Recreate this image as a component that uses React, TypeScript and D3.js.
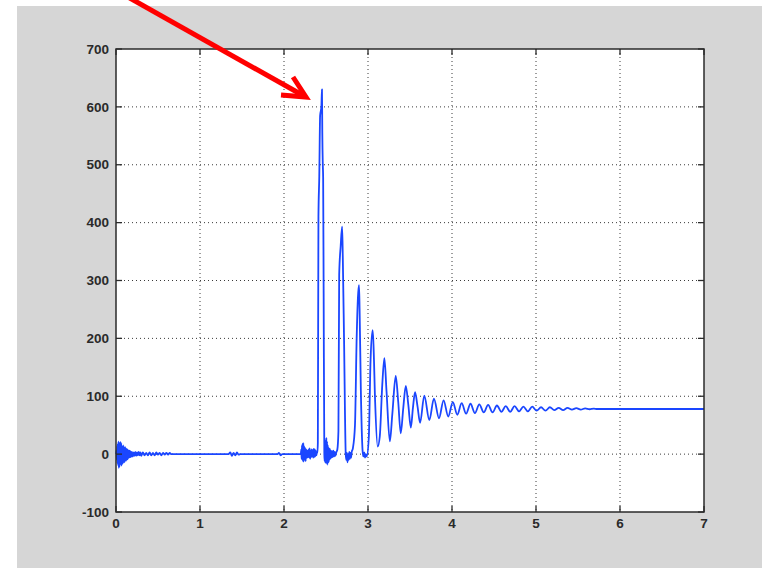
import React from "react";
import * as d3 from "d3";

// ---- tick labels ----
const xTicks = [0, 1, 2, 3, 4, 5, 6, 7];
const yTicks = [-100, 0, 100, 200, 300, 400, 500, 600, 700];

// ---- signal: [time, value] ----
const startNoise: [number, number][] = [
  [0.0, 0], [0.006, 6], [0.01, -10], [0.014, 14], [0.018, -16], [0.022, 18], [0.026, -20],
  [0.03, 22], [0.034, -24], [0.038, 20], [0.042, -22], [0.046, 16], [0.05, -18], [0.054, 21],
  [0.058, -15], [0.062, 19], [0.066, -20], [0.07, 14], [0.074, -17], [0.078, 12], [0.082, -16],
  [0.086, 15], [0.09, -12], [0.094, 13], [0.098, -14], [0.102, 10], [0.106, -13], [0.11, 12],
  [0.114, -10], [0.118, 9], [0.122, -11], [0.126, 9], [0.13, -8], [0.134, 8], [0.138, -9],
  [0.142, 7], [0.146, -7], [0.15, 6], [0.155, -6], [0.16, 6], [0.165, -5], [0.17, 5],
  [0.175, -5], [0.18, 4], [0.185, -4], [0.19, 4], [0.2, -4],
  [0.21, 3], [0.22, -3], [0.23, 4], [0.24, -3], [0.25, 3], [0.26, -2], [0.27, 4], [0.28, -2],
  [0.29, 3], [0.3, -3], [0.32, 3], [0.34, -2], [0.36, 2], [0.38, -2], [0.4, 3], [0.42, -2],
  [0.44, 2], [0.46, -2], [0.48, 3], [0.5, -1], [0.52, 2], [0.54, -2], [0.56, 2], [0.58, -1],
  [0.6, 2], [0.62, -1], [0.64, 2], [0.66, 0],
];

const quietPart: [number, number][] = [
  [1.34, 0], [1.36, 3], [1.38, -3], [1.4, 2], [1.42, -2], [1.44, 3], [1.46, -1], [1.48, 0],
  [1.92, 0], [1.94, 2], [1.96, -2], [1.98, 0], [2.2, 0],
];

const preImpactNoise: [number, number][] = [
  [2.206, 8], [2.21, -8], [2.214, 15], [2.218, -10], [2.222, 18], [2.226, -12], [2.23, 19],
  [2.234, -13], [2.238, 14], [2.242, -10], [2.246, 12], [2.25, -9], [2.254, 10], [2.258, -12],
  [2.262, 8], [2.266, -7], [2.27, 7], [2.276, -6], [2.282, 6], [2.288, -5], [2.294, 8],
  [2.3, -6], [2.306, 10], [2.312, -8], [2.318, 6], [2.324, -5], [2.33, 8], [2.336, -4],
  [2.342, 7], [2.348, -6], [2.354, 9], [2.36, -5], [2.366, 8], [2.372, -4], [2.378, 6],
  [2.385, -2], [2.392, 3], [2.398, 2],
];

const impactPeaks: [number, number][] = [
  [2.403, 20], [2.41, 410], [2.42, 480], [2.43, 585], [2.445, 600], [2.452, 630], [2.456, 555],
  [2.462, 500], [2.466, 478], [2.472, 278], [2.48, 0], [2.484, -12], [2.488, 18], [2.492, -15],
  [2.496, 24], [2.5, -14], [2.504, 28], [2.508, -16], [2.512, 22], [2.516, -18], [2.52, 16],
  [2.524, -12], [2.528, 12], [2.532, -14], [2.536, 10], [2.54, -10], [2.546, 9], [2.552, -8],
  [2.558, 6], [2.565, -6], [2.572, 5], [2.58, -5], [2.588, 6], [2.596, -4], [2.604, 4],
  [2.612, -3], [2.622, 3], [2.635, 8],
  [2.648, 40], [2.657, 310], [2.675, 360], [2.692, 393], [2.7, 340], [2.715, 197],
  [2.735, 0], [2.742, -10], [2.749, 2], [2.756, -14], [2.763, 0], [2.77, -10], [2.777, 4],
  [2.784, -8], [2.791, 2], [2.798, -6], [2.805, 3], [2.82, 10], [2.845, 50], [2.865, 200],
  [2.88, 270], [2.893, 292], [2.9, 250], [2.915, 110], [2.935, 7], [2.945, -4], [2.955, 3],
  [2.965, -6], [2.975, 0], [2.985, -4], [3.01, 30], [3.03, 160], [3.055, 214],
  [3.065, 190], [3.085, 90], [3.115, 13],
];

const decayOscillation: [number, number][] = [
  [3.14, 30], [3.17, 120], [3.195, 166], [3.22, 110], [3.26, 22], [3.29, 70], [3.33, 135],
  [3.36, 90], [3.39, 36], [3.42, 80], [3.45, 118], [3.48, 85], [3.51, 46], [3.535, 80],
  [3.56, 107], [3.59, 82], [3.62, 54], [3.67, 101], [3.73, 59], [3.785, 96], [3.845, 62],
  [3.9, 93], [3.955, 65], [4.01, 90], [4.063, 68], [4.115, 88], [4.168, 70], [4.22, 87],
  [4.273, 71], [4.325, 86], [4.378, 72], [4.43, 85], [4.483, 72], [4.535, 84], [4.588, 73],
  [4.64, 83], [4.693, 73], [4.745, 83], [4.798, 74], [4.85, 82], [4.903, 74], [4.955, 82],
  [5.008, 75], [5.06, 81], [5.113, 75], [5.165, 81], [5.218, 76], [5.27, 80], [5.323, 76],
  [5.375, 80], [5.428, 77], [5.48, 79.5], [5.533, 77], [5.585, 79], [5.638, 77.5],
  [5.69, 78.5], [5.72, 78], [7.0, 78],
];

const signal: [number, number][] = [
  ...startNoise,
  ...quietPart,
  ...preImpactNoise,
  ...impactPeaks,
  ...decayOscillation,
];

export default function App() {
  const W = 762;
  const H = 568;
  const left = 116;
  const right = 704;
  const top = 49;
  const bottom = 512;

  const x = d3.scaleLinear().domain([0, 7]).range([left, right]);
  const y = d3.scaleLinear().domain([-100, 700]).range([bottom, top]);

  const line = d3
    .line<[number, number]>()
    .x((d) => x(d[0]))
    .y((d) => y(d[1]))
    .curve(d3.curveMonotoneX);

  const tickLen = 6;
  const font = "'Liberation Sans', Arial, Helvetica, sans-serif";
  const axisColor = "#2b2b2b";
  const gridColor = "#3a3a3a";

  return (
    <svg
      width={W}
      height={H}
      style={{ position: "absolute", left: 0, top: 0, display: "block" }}
    >
      <rect x={0} y={0} width={W} height={H} fill="#ffffff" />
      <rect x={17} y={6} width={W - 17} height={H - 6} fill="#d6d6d6" />
      <rect x={left} y={top} width={right - left} height={bottom - top} fill="#ffffff" />

      {/* grid */}
      {xTicks
        .filter((t) => t > 0 && t < 7)
        .map((t) => (
          <line
            key={"gx" + t}
            x1={x(t)}
            x2={x(t)}
            y1={top}
            y2={bottom}
            stroke={gridColor}
            strokeWidth={1}
            strokeDasharray="1,3"
          />
        ))}
      {yTicks
        .filter((t) => t > -100 && t < 700)
        .map((t) => (
          <line
            key={"gy" + t}
            x1={left}
            x2={right}
            y1={y(t)}
            y2={y(t)}
            stroke={gridColor}
            strokeWidth={1}
            strokeDasharray="1,3"
          />
        ))}

      {/* data */}
      <path
        d={line(signal) || ""}
        fill="none"
        stroke="#1a46ff"
        strokeWidth={1.8}
        strokeLinejoin="round"
      />

      {/* ticks */}
      {xTicks.map((t) => (
        <g key={"tx" + t}>
          <line x1={x(t)} x2={x(t)} y1={bottom} y2={bottom - tickLen} stroke={axisColor} strokeWidth={1.3} />
          <line x1={x(t)} x2={x(t)} y1={top} y2={top + tickLen} stroke={axisColor} strokeWidth={1.3} />
          <text
            x={x(t)}
            y={528}
            textAnchor="middle"
            fontFamily={font}
            fontWeight="bold"
            fontSize={13.5}
            fill="#2a2a2a"
          >
            {t}
          </text>
        </g>
      ))}
      {yTicks.map((t) => (
        <g key={"ty" + t}>
          <line x1={left} x2={left + tickLen} y1={y(t)} y2={y(t)} stroke={axisColor} strokeWidth={1.3} />
          <line x1={right} x2={right - tickLen} y1={y(t)} y2={y(t)} stroke={axisColor} strokeWidth={1.3} />
          <text
            x={109}
            y={y(t)}
            dy="0.35em"
            textAnchor="end"
            fontFamily={font}
            fontWeight="bold"
            fontSize={13.5}
            fill="#2a2a2a"
          >
            {t}
          </text>
        </g>
      ))}

      {/* frame */}
      <rect
        x={left}
        y={top}
        width={right - left}
        height={bottom - top}
        fill="none"
        stroke={axisColor}
        strokeWidth={1.5}
      />

      {/* red annotation arrow */}
      <line x1={119} y1={-8} x2={304} y2={96} stroke="#ff0000" strokeWidth={5} />
      <polyline
        points="281,95 306,97 293,77"
        fill="none"
        stroke="#ff0000"
        strokeWidth={5}
        strokeLinejoin="miter"
      />
    </svg>
  );
}
